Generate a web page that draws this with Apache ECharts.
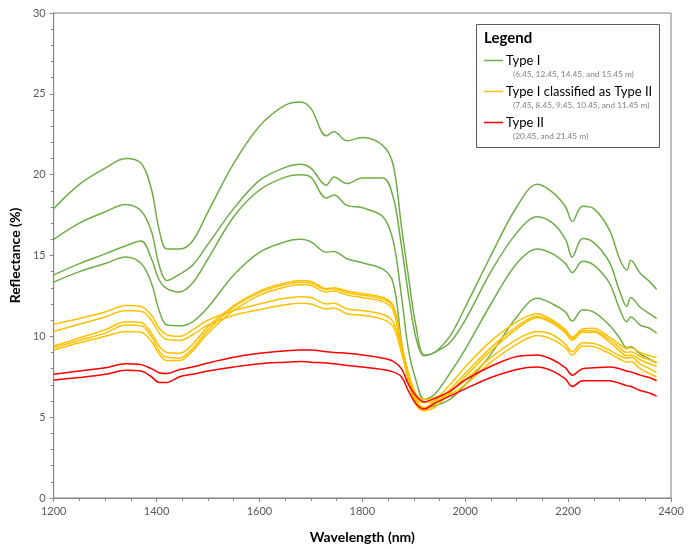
<!DOCTYPE html>
<html><head><meta charset="utf-8">
<script src="https://cdn.jsdelivr.net/npm/echarts@6/dist/echarts.min.js"></script>
<style>html,body{margin:0;padding:0;background:#fff}#c{width:694px;height:549px}</style>
</head><body><div id="c"></div>
<script>
const wavelengths = [1200,1250,1300,1340,1370,1390,1405,1420,1445,1470,1500,1550,1600,1650,1680,1700,1730,1745,1770,1800,1840,1860,1876,1890,1905,1920,1940,1970,2000,2050,2100,2140,2170,2195,2208,2228,2250,2280,2300,2314,2322,2340,2358,2372];

// Type I
const typeI_1 = [17.9,19.4,20.4,21.0,20.7,19.1,16.6,15.4,15.4,15.9,17.7,20.7,23.0,24.3,24.5,24.1,22.4,22.65,22.1,22.3,21.8,20.6,16.8,13.6,10.5,8.85,9.0,10.0,11.8,15.0,18.0,19.4,18.9,18.0,17.1,18.05,17.9,16.6,14.8,14.1,14.7,13.9,13.4,12.9];
const typeI_2 = [16.0,17.0,17.7,18.15,17.75,16.5,14.4,13.45,13.85,14.4,15.7,17.9,19.65,20.45,20.65,20.4,19.35,19.85,19.45,19.8,19.8,18.6,15.6,12.5,9.8,8.8,9.0,9.6,11.0,14.0,16.4,17.4,17.0,16.0,14.9,16.05,15.8,14.6,12.8,11.85,12.4,11.8,11.4,11.1];
const typeI_3 = [13.8,14.5,15.1,15.6,15.9,14.8,13.5,12.95,12.75,13.3,14.8,17.4,19.05,19.85,20.0,19.85,18.55,18.75,18.1,17.95,17.4,15.9,12.5,9.1,7.2,6.1,6.4,7.7,9.2,12.0,14.5,15.4,15.1,14.5,13.95,14.65,14.4,13.3,11.7,10.9,11.2,10.7,10.5,10.2];
const typeI_4 = [13.35,14.0,14.5,14.9,14.5,13.3,11.6,10.7,10.65,10.9,11.8,13.8,15.2,15.85,16.0,15.85,15.2,15.25,14.8,14.55,14.15,13.3,9.7,7.2,5.85,5.55,5.7,6.1,7.0,8.9,11.2,12.35,12.0,11.5,10.95,11.65,11.5,10.7,9.9,9.3,9.35,8.9,8.6,8.35];

// Type I classified as Type II
const typeIasII_1 = [10.75,11.1,11.5,11.9,11.85,11.3,10.5,10.1,10.0,10.4,11.0,11.6,12.0,12.35,12.45,12.4,12.0,12.05,11.7,11.6,11.35,10.9,9.3,7.7,6.4,6.1,6.2,6.6,7.3,8.7,9.8,10.3,10.1,9.5,9.05,9.6,9.55,9.15,8.8,8.65,8.7,8.3,8.0,7.75];
const typeIasII_2 = [10.3,10.75,11.2,11.6,11.55,11.0,10.2,9.8,9.75,10.1,10.7,11.3,11.65,11.95,12.05,12.0,11.7,11.75,11.4,11.3,11.05,10.6,9.0,7.4,6.2,5.9,6.0,6.4,7.0,8.4,9.5,10.05,9.8,9.3,8.85,9.4,9.35,8.95,8.6,8.4,8.45,8.0,7.7,7.5];
const typeIasII_3 = [9.4,9.9,10.4,10.9,10.85,10.2,9.4,9.0,8.95,9.5,10.6,11.9,12.8,13.3,13.45,13.4,12.95,13.0,12.8,12.65,12.4,11.9,9.6,7.6,6.1,5.6,6.0,7.0,8.1,9.7,10.9,11.4,11.0,10.4,9.95,10.45,10.5,9.95,9.5,9.25,9.3,9.0,8.8,8.7];
const typeIasII_4 = [9.3,9.75,10.2,10.7,10.65,10.0,9.1,8.7,8.65,9.25,10.4,11.8,12.7,13.2,13.35,13.3,12.9,12.95,12.7,12.55,12.3,11.8,9.4,7.4,5.9,5.5,5.8,6.7,7.7,9.3,10.6,11.25,10.9,10.3,9.85,10.35,10.35,9.8,9.3,9.0,9.05,8.75,8.55,8.4];
const typeIasII_5 = [9.15,9.6,10.0,10.3,10.25,9.7,8.9,8.5,8.5,9.1,10.2,11.6,12.55,13.05,13.2,13.15,12.75,12.8,12.55,12.4,12.15,11.6,9.2,7.2,5.75,5.4,5.6,6.5,7.5,9.1,10.45,11.15,10.8,10.2,9.75,10.25,10.25,9.65,9.1,8.8,8.85,8.55,8.3,8.15];

// Type II
const typeII_1 = [7.65,7.85,8.05,8.3,8.25,8.0,7.75,7.7,7.95,8.1,8.35,8.7,8.95,9.1,9.15,9.15,9.05,9.0,8.95,8.85,8.65,8.45,8.0,7.0,6.3,5.95,6.15,6.6,7.3,8.15,8.75,8.85,8.55,8.05,7.6,8.0,8.05,8.1,8.0,7.85,7.8,7.6,7.45,7.25];
const typeII_2 = [7.3,7.45,7.65,7.9,7.85,7.5,7.15,7.15,7.5,7.65,7.85,8.1,8.3,8.4,8.45,8.4,8.35,8.3,8.2,8.1,7.95,7.8,7.5,6.6,5.8,5.5,5.85,6.3,6.75,7.45,7.95,8.1,7.85,7.35,6.9,7.25,7.25,7.25,7.1,6.95,6.9,6.65,6.5,6.3];

const xTicks = {min:1200, max:2400, interval:200};
const yTicks = {min:0, max:30, interval:5};

const groups = [
  {name:'Type I', color:'#70AD47', sub:'(6.45, 12.45, 14.45, and 15.45 m)', data:[typeI_1,typeI_2,typeI_3,typeI_4]},
  {name:'Type I classified as Type II', color:'#FFC000', sub:'(7.45, 8.45, 9.45, 10.45, and 11.45 m)', data:[typeIasII_1,typeIasII_2,typeIasII_3,typeIasII_4,typeIasII_5]},
  {name:'Type II', color:'#FF0000', sub:'(20.45, and 21.45 m)', data:[typeII_1,typeII_2]}
];

const series = [];
groups.forEach(g => g.data.forEach((vals,i) => {
  series.push({
    name: g.name + ' ' + (i+1), type:'line', showSymbol:false, smooth:0.35,
    lineStyle:{color:g.color, width:1.5}, itemStyle:{color:g.color},
    data: wavelengths.map((w,k)=>[w, vals[k]]), silent:true, z:2
  });
}));

const FONT = 'Lato, "Open Sans", sans-serif';
const graphic = [
  {type:'rect', shape:{x:476.5, y:24.5, width:183, height:123}, style:{fill:'#fff', stroke:'#595959', lineWidth:1}, z:10},
  {type:'text', x:484, y:38, style:{text:'Legend', font:'bold 15px ' + FONT, fill:'#000', textVerticalAlign:'middle'}, z:11}
];
const ys = [60.5, 91.5, 122.5];
groups.forEach((g,i) => {
  graphic.push({type:'line', shape:{x1:484, y1:ys[i], x2:503, y2:ys[i]}, style:{stroke:g.color, lineWidth:1.5}, z:11});
  graphic.push({type:'text', x:506, y:ys[i], style:{text:g.name, font:'13px ' + FONT, fill:'#000', textVerticalAlign:'middle'}, z:11});
  graphic.push({type:'text', x:513, y:ys[i]+13.5, style:{text:g.sub, font:'8.3px ' + FONT, fill:'#7f7f7f', textVerticalAlign:'middle'}, z:11});
});

const chart = echarts.init(document.getElementById('c'), null, {renderer:'canvas'});
chart.setOption({
  animation:false,
  backgroundColor:'#fff',
  grid:{left:50, right:23, top:13, bottom:43, show:true, borderColor:'#7f7f7f', borderWidth:1},
  xAxis:{type:'value', min:xTicks.min, max:xTicks.max, interval:xTicks.interval,
    name:'Wavelength (nm)', nameLocation:'middle', nameGap:32,
    nameTextStyle:{fontFamily:FONT, fontWeight:'bold', fontSize:14, color:'#000'},
    axisLine:{show:true, onZero:false, lineStyle:{color:'#868686'}},
    axisTick:{show:true, length:4, lineStyle:{color:'#868686'}},
    minorTick:{show:true, splitNumber:4, length:3, lineStyle:{color:'#868686'}},
    axisLabel:{fontFamily:FONT, fontSize:11, color:'#595959', margin:8, formatter:v=>String(v)},
    splitLine:{show:false}},
  yAxis:{type:'value', min:yTicks.min, max:yTicks.max, interval:yTicks.interval,
    name:'Reflectance (%)', nameLocation:'middle', nameGap:25,
    nameTextStyle:{fontFamily:FONT, fontWeight:'bold', fontSize:14, color:'#000'},
    axisLine:{show:true, lineStyle:{color:'#868686'}},
    axisTick:{show:true, length:4, lineStyle:{color:'#868686'}},
    minorTick:{show:true, splitNumber:5, length:3, lineStyle:{color:'#868686'}},
    axisLabel:{fontFamily:FONT, fontSize:11, color:'#595959', margin:8, formatter:v=>String(v)},
    splitLine:{show:false}},
  series: series,
  graphic: graphic
});
</script></body></html>
